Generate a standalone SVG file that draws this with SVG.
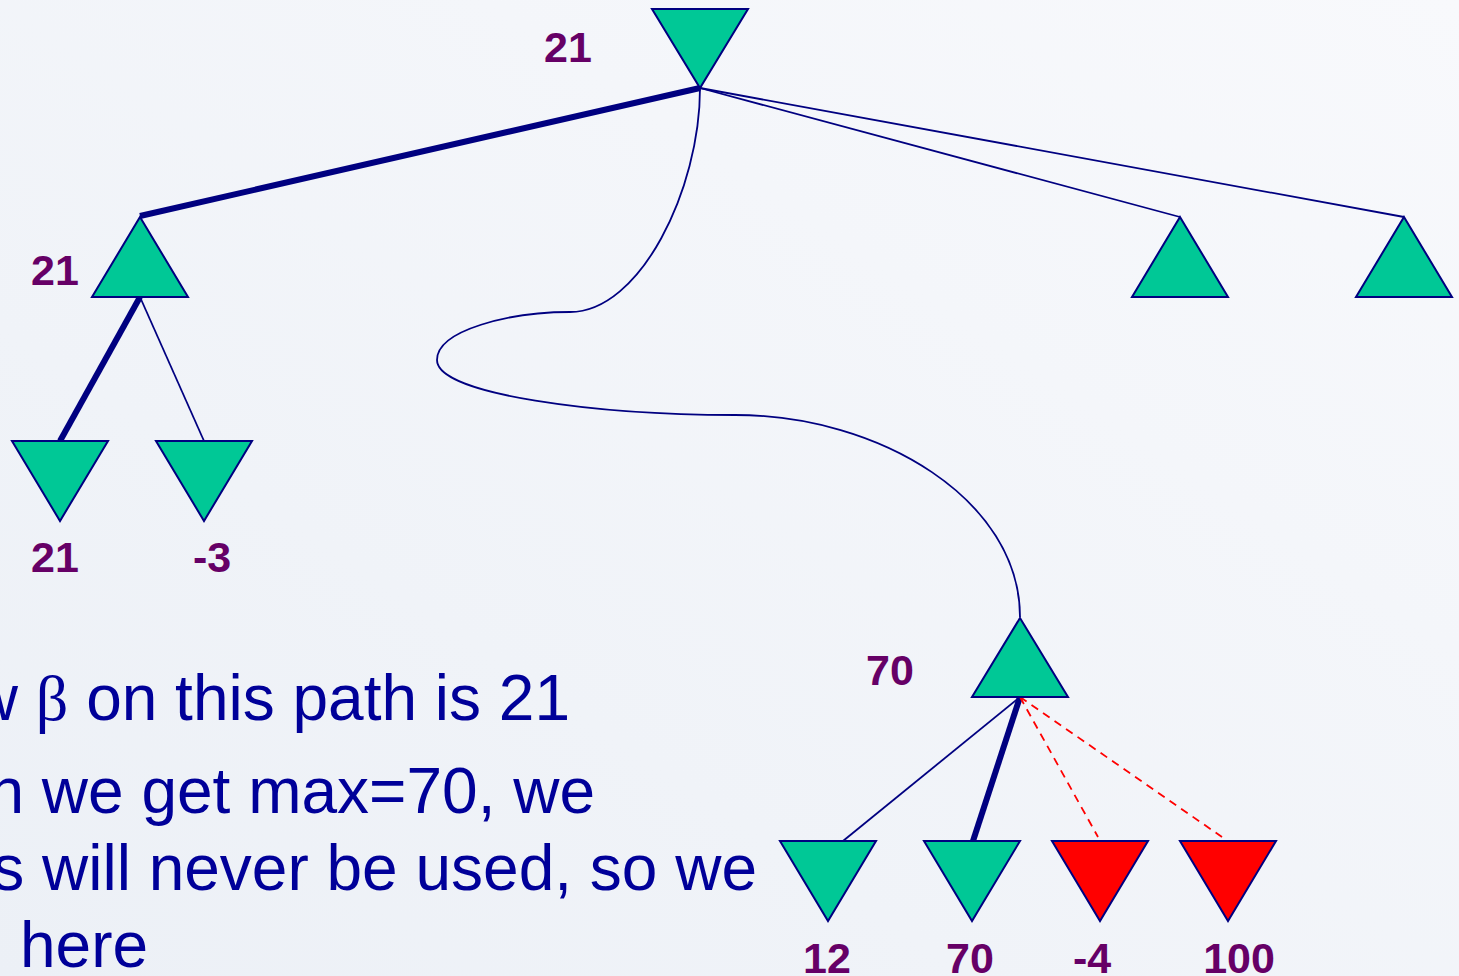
<svg xmlns="http://www.w3.org/2000/svg" width="1459" height="976" viewBox="0 0 1459 976">
<defs>
<linearGradient id="bg" x1="0" y1="1" x2="1" y2="0">
<stop offset="0" stop-color="#ecf0f6"/>
<stop offset="1" stop-color="#f8f9fc"/>
</linearGradient>
<style>
.tri{fill:#00c896;stroke:#000080;stroke-width:2;stroke-linejoin:miter}
.red{fill:#ff0000;stroke:#000080;stroke-width:2}
.thin{stroke:#000080;stroke-width:1.8;fill:none}
.thick{stroke:#000080;stroke-width:6;fill:none}
.dash{stroke:#ff0000;stroke-width:1.8;stroke-dasharray:8,6;fill:none}
.lbl{font-family:"Liberation Sans",Arial,sans-serif;font-weight:bold;font-size:43px;fill:#660066;text-anchor:middle}
.txt{font-family:"Liberation Sans",Arial,sans-serif;font-size:64px;fill:#000099}
</style>
</defs>
<rect width="1459" height="976" fill="url(#bg)"/>
<g id="connectors">
<line class="thick" x1="700" y1="88" x2="140" y2="216"/>
<line class="thin" x1="700" y1="88" x2="1180" y2="217"/>
<line class="thin" x1="700" y1="88" x2="1404" y2="217"/>
<path class="thin" d="M700,88 C700,190 640,312 570,312 C510,312 437,330 437,360 C437,395 600,415 735,415 C880,415 1020,500 1020,617"/>
<line class="thick" x1="140" y1="297" x2="60" y2="441" stroke-width="7"/>
<line class="thin" x1="140" y1="297" x2="204" y2="441"/>
<line class="thin" x1="1020" y1="697" x2="843" y2="841"/>
<line class="thick" x1="1020" y1="697" x2="973" y2="841"/>
<line class="dash" x1="1020" y1="697" x2="1098" y2="837"/>
<line class="dash" x1="1020" y1="697" x2="1222" y2="837"/>
</g>
<g id="root"><polygon class="tri" points="652,9 748,9 700,88"/><text class="lbl" x="568" y="62">21</text></g>
<g id="nodeA"><polygon class="tri" points="140,217 188,297 92,297"/><text class="lbl" x="55" y="285">21</text></g>
<g id="leaf1"><polygon class="tri" points="12,441 108,441 60,521"/><text class="lbl" x="55" y="572">21</text></g>
<g id="leaf2"><polygon class="tri" points="156,441 252,441 204,521"/><text class="lbl" x="212" y="572">-3</text></g>
<g id="nodeC"><polygon class="tri" points="1180,217 1228,297 1132,297"/></g>
<g id="nodeD"><polygon class="tri" points="1404,217 1452,297 1356,297"/></g>
<g id="nodeB"><polygon class="tri" points="1020,618 1068,697 972,697"/><text class="lbl" x="890" y="685">70</text></g>
<g id="leaf3"><polygon class="tri" points="780,841 876,841 828,921"/><text class="lbl" x="827" y="973">12</text></g>
<g id="leaf4"><polygon class="tri" points="924,841 1020,841 972,921"/><text class="lbl" x="970" y="973">70</text></g>
<g id="leaf5"><polygon class="red" points="1052,841 1148,841 1100,921"/><text class="lbl" x="1092" y="973">-4</text></g>
<g id="leaf6"><polygon class="red" points="1180,841 1276,841 1228,921"/><text class="lbl" x="1239" y="973">100</text></g>
<g id="text">
<text class="txt" x="570" y="720" text-anchor="end">w <tspan font-family="'Liberation Serif',serif">β</tspan> on this path is 21</text>
<text class="txt" x="595" y="813" text-anchor="end">n we get max=70, we</text>
<text class="txt" x="757" y="890" text-anchor="end">s will never be used, so we</text>
<text class="txt" x="20" y="967">here</text>
</g>
</svg>
